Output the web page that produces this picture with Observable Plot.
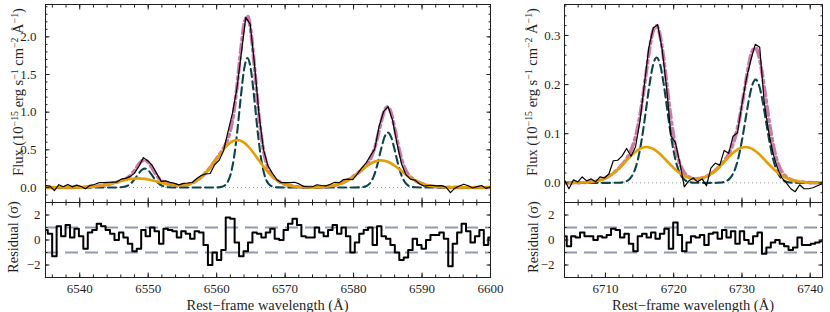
<!DOCTYPE html>
<html><head><meta charset="utf-8">
<script src="https://cdn.jsdelivr.net/npm/d3@7"></script>
<script src="https://cdn.jsdelivr.net/npm/@observablehq/plot@0.6"></script>
<style>
body{margin:0;background:#fff;}
#wrap{position:relative;width:830px;height:312px;font-family:'Liberation Serif','Times New Roman',serif;color:#1f1f1f;overflow:hidden;}
.lab{position:absolute;white-space:nowrap;font-size:14.5px;line-height:1;}
.rot{transform:translate(-50%,-50%) rotate(-90deg);}
.hor{transform:translate(-50%,-50%);}
.lab sup{font-size:0.68em;vertical-align:0.5em;line-height:0;}
</style></head><body><div id="wrap"></div><script>
// ---------- H-alpha + [NII] window: observed spectrum and residuals ----------
const leftWl = [6535.00,6535.65,6536.30,6536.95,6537.60,6538.25,6538.90,6539.55,6540.20,6540.85,6541.50,6542.15,6542.80,6543.45,6544.10,6544.75,6545.40,6546.05,6546.70,6547.35,6548.00,6548.65,6549.30,6549.95,6550.60,6551.25,6551.90,6552.55,6553.20,6553.85,6554.50,6555.15,6555.80,6556.45,6557.10,6557.75,6558.40,6559.05,6559.70,6560.35,6561.00,6561.65,6562.30,6562.95,6563.60,6564.25,6564.90,6565.55,6566.20,6566.85,6567.50,6568.15,6568.80,6569.45,6570.10,6570.75,6571.40,6572.05,6572.70,6573.35,6574.00,6574.65,6575.30,6575.95,6576.60,6577.25,6577.90,6578.55,6579.20,6579.85,6580.50,6581.15,6581.80,6582.45,6583.10,6583.75,6584.40,6585.05,6585.70,6586.35,6587.00,6587.65,6588.30,6588.95,6589.60,6590.25,6590.90,6591.55,6592.20,6592.85,6593.50,6594.15,6594.80,6595.45,6596.10,6596.75,6597.40,6598.05,6598.70,6599.35,6600.00];
const leftFlux = [0.026,0.017,-0.043,0.036,0.010,0.040,0.008,0.031,0.013,-0.018,0.028,0.039,0.063,0.065,0.068,0.072,0.071,0.110,0.120,0.144,0.190,0.281,0.396,0.352,0.291,0.184,0.081,0.088,0.067,0.054,0.035,0.054,0.059,0.066,0.118,0.159,0.180,0.185,0.302,0.359,0.484,0.737,0.983,1.311,1.779,2.260,2.170,1.616,0.961,0.499,0.286,0.189,0.102,0.063,0.065,0.065,0.069,0.047,0.014,0.009,0.009,0.036,0.026,0.020,0.043,0.069,0.063,0.104,0.111,0.102,0.175,0.252,0.322,0.420,0.512,0.820,1.011,1.074,0.891,0.582,0.312,0.168,0.111,0.098,0.049,0.018,0.026,0.028,0.022,0.025,0.005,-0.068,-0.009,0.020,0.043,0.023,-0.007,0.010,0.026,-0.013,0.007];
const leftResid = [0.8,0.5,-1.3,1.1,0.3,1.2,0.2,0.9,0.3,-0.7,0.6,0.8,1.3,1.1,0.8,0.5,0.0,0.6,0.2,-0.3,-0.9,-0.7,0.8,0.3,1.0,0.7,-0.3,0.9,0.8,0.7,0.2,0.7,0.5,0.1,0.7,0.6,-0.4,-2.0,-1.0,-1.6,-0.8,1.8,1.7,-0.2,-1.3,-0.9,-0.2,0.6,0.5,0.2,0.6,0.9,0.1,0.0,0.8,1.3,1.7,1.2,0.3,0.2,0.2,1.0,0.6,0.3,0.8,1.2,0.5,1.0,0.3,-1.0,-0.2,0.5,0.8,1.0,-0.4,1.1,0.3,0.1,-0.4,-1.0,-1.6,-1.4,-0.8,0.1,-0.4,-0.7,0.0,0.4,0.4,0.6,0.1,-2.1,-0.3,0.6,1.3,0.7,-0.2,0.3,0.8,-0.4,0.2];

// ---------- H-alpha + [NII] window: fitted model (total, narrow, broad) ----------
const leftModelWl = [6535,6536,6537,6538,6539,6540,6541,6542,6543,6544,6545,6546,6546.5,6547,6547.5,6548,6548.5,6549,6549.5,6550,6550.5,6551,6551.5,6552,6552.5,6553,6554,6555,6556,6557,6558,6559,6560,6560.5,6561,6561.5,6562,6562.5,6563,6563.5,6564,6564.5,6565,6565.5,6566,6566.5,6567,6567.5,6568,6568.5,6569,6570,6571,6572,6573,6574,6575,6576,6577,6578,6579,6580,6581,6581.5,6582,6582.5,6583,6583.5,6584,6584.5,6585,6585.5,6586,6586.5,6587,6587.5,6588,6588.5,6589,6590,6591,6592,6593,6594,6595,6596,6597,6598,6599,6600];
const leftTotal = [0,0,0.0001,0.0003,0.0008,0.0022,0.0053,0.0115,0.0224,0.039,0.0608,0.0872,0.1044,0.1294,0.1685,0.2251,0.2913,0.3458,0.3635,0.3334,0.2675,0.1918,0.1282,0.0851,0.059,0.0439,0.0294,0.0295,0.0467,0.0874,0.158,0.259,0.3828,0.449,0.5208,0.6133,0.7577,0.999,1.364,1.799,2.161,2.276,2.069,1.623,1.116,0.697,0.4207,0.2623,0.1738,0.121,0.0858,0.041,0.018,0.0071,0.0029,0.0022,0.0042,0.0103,0.0237,0.0487,0.0898,0.148,0.22,0.2615,0.3126,0.3863,0.5012,0.6667,0.86,1.0193,1.0706,0.982,0.7883,0.5661,0.3789,0.2509,0.1723,0.124,0.0915,0.0487,0.0237,0.0103,0.004,0.0014,0.0004,0,0,0,0,0];
const leftNarrow = [0,0,0,0,0,0,0,0,0,0,0,0.0024,0.0083,0.0235,0.055,0.1068,0.1713,0.2275,0.25,0.2275,0.1713,0.1068,0.055,0.0235,0.0083,0.0024,0,0,0,0,0,0,0.0008,0.004,0.0168,0.0573,0.1617,0.378,0.734,1.178,1.565,1.72,1.565,1.178,0.734,0.378,0.1617,0.0573,0.0168,0.004,0.0008,0,0,0,0,0,0,0,0,0,0,0,0.0017,0.0071,0.0243,0.0686,0.1606,0.3117,0.5,0.6643,0.73,0.6643,0.5,0.3117,0.1606,0.0686,0.0243,0.0071,0.0017,0,0,0,0,0,0,0,0,0,0,0];
const leftBroad = [0,0,0.0001,0.0003,0.0008,0.0022,0.0053,0.0115,0.0224,0.039,0.0608,0.0848,0.0961,0.1059,0.1135,0.1183,0.12,0.1183,0.1135,0.1059,0.0962,0.085,0.0732,0.0616,0.0507,0.0415,0.0294,0.0295,0.0467,0.0874,0.158,0.259,0.382,0.445,0.504,0.556,0.596,0.621,0.63,0.621,0.596,0.556,0.504,0.445,0.382,0.319,0.259,0.205,0.157,0.117,0.085,0.041,0.018,0.0071,0.0029,0.0022,0.0042,0.0103,0.0237,0.0487,0.0898,0.148,0.2183,0.2544,0.2883,0.3177,0.3406,0.355,0.36,0.355,0.3406,0.3177,0.2883,0.2544,0.2183,0.1823,0.148,0.1169,0.0898,0.0487,0.0237,0.0103,0.004,0.0014,0.0004,0,0,0,0,0];

// ---------- [SII] window: observed spectrum and residuals ----------
const rightWl = [6704.00,6704.65,6705.30,6705.95,6706.60,6707.25,6707.90,6708.55,6709.20,6709.85,6710.50,6711.15,6711.80,6712.45,6713.10,6713.75,6714.40,6715.05,6715.70,6716.35,6717.00,6717.65,6718.30,6718.95,6719.60,6720.25,6720.90,6721.55,6722.20,6722.85,6723.50,6724.15,6724.80,6725.45,6726.10,6726.75,6727.40,6728.05,6728.70,6729.35,6730.00,6730.65,6731.30,6731.95,6732.60,6733.25,6733.90,6734.55,6735.20,6735.85,6736.50,6737.15,6737.80,6738.45,6739.10,6739.75,6740.40,6741.05,6741.70];
const rightFlux = [0.006,-0.012,0.006,0.002,0.012,0.004,0.008,0.002,0.012,0.010,0.018,0.045,0.046,0.055,0.070,0.054,0.073,0.125,0.200,0.275,0.315,0.322,0.272,0.195,0.095,0.082,0.040,-0.008,0.004,0.010,0.002,0.008,-0.006,0.030,0.040,0.036,0.066,0.060,0.095,0.102,0.160,0.212,0.250,0.282,0.276,0.165,0.105,0.060,0.030,0.010,0.000,-0.012,-0.018,-0.004,-0.012,-0.012,-0.010,-0.006,-0.002];
const rightResid = [0.3,-0.5,0.3,0.2,0.6,0.3,0.3,0.0,0.3,0.2,0.4,0.9,0.8,0.2,0.5,-0.3,-0.9,0.3,0.5,0.2,0.6,0.1,0.5,0.9,-0.7,1.4,0.4,-0.9,-0.2,0.3,0.2,0.4,-0.4,0.5,0.6,0.1,0.8,0.2,0.7,-0.3,0.7,0.0,-0.3,0.3,0.6,-1.1,-0.6,-0.2,0.0,-0.3,-0.5,-0.8,-0.6,0.2,-0.4,-0.4,-0.3,-0.2,-0.1];

// ---------- [SII] window: fitted model ----------
const rightModelWl = [6704,6705,6706,6707,6708,6709,6710,6711,6711.5,6712,6712.5,6713,6713.5,6714,6714.5,6715,6715.5,6716,6716.5,6717,6717.5,6718,6718.5,6719,6719.5,6720,6720.5,6721,6721.5,6722,6722.5,6723,6723.5,6724,6724.5,6725,6725.5,6726,6726.5,6727,6727.5,6728,6728.5,6729,6729.5,6730,6730.5,6731,6731.5,6732,6732.5,6733,6733.5,6734,6734.5,6735,6735.5,6736,6736.5,6737,6737.5,6738,6739,6740,6741,6742];
const rightTotal = [0,0.0001,0.0003,0.0008,0.0021,0.0048,0.0099,0.0182,0.0238,0.0303,0.038,0.0471,0.0589,0.0753,0.0989,0.1327,0.1768,0.2277,0.2762,0.3103,0.3194,0.2997,0.2558,0.199,0.1419,0.0938,0.0585,0.0355,0.0217,0.014,0.0101,0.0083,0.0081,0.0091,0.0112,0.0144,0.0187,0.024,0.0305,0.0379,0.0466,0.0576,0.0723,0.0928,0.1215,0.1583,0.2004,0.2401,0.2677,0.2744,0.2571,0.2197,0.1717,0.1233,0.0824,0.0521,0.032,0.0196,0.0122,0.0078,0.0051,0.0033,0.0013,0.0005,0.0002,0];
const rightNarrow = [0,0,0,0,0,0,0,0,0.0001,0.0003,0.001,0.0028,0.0073,0.0168,0.0345,0.0636,0.1048,0.1547,0.2042,0.2412,0.255,0.2412,0.2042,0.1547,0.1048,0.0636,0.0345,0.0168,0.0073,0.0028,0.001,0.0003,0.0001,0,0,0,0,0,0.0003,0.0008,0.0023,0.006,0.0138,0.0284,0.0524,0.0863,0.1274,0.1681,0.1986,0.21,0.1986,0.1681,0.1274,0.0863,0.0524,0.0284,0.0138,0.006,0.0023,0.0008,0.0003,0.0001,0,0,0,0];
const rightBroad = [0,0.0001,0.0003,0.0008,0.0021,0.0048,0.0099,0.0182,0.0237,0.030,0.037,0.0443,0.0516,0.0585,0.0644,0.0691,0.072,0.073,0.072,0.0691,0.0644,0.0585,0.0516,0.0443,0.0371,0.0302,0.024,0.0187,0.0144,0.0112,0.0091,0.008,0.008,0.0091,0.0112,0.0144,0.0187,0.024,0.0302,0.0371,0.0443,0.0516,0.0585,0.0644,0.0691,0.072,0.073,0.072,0.0691,0.0644,0.0585,0.0516,0.0443,0.037,0.030,0.0237,0.0182,0.0136,0.0099,0.007,0.0048,0.0032,0.0013,0.0005,0.0002,0];

// ---------- ticks and reference levels ----------
const leftXMajor = [6540,6550,6560,6570,6580,6590,6600];
const leftXMinor = [6536,6538,6540,6542,6544,6546,6548,6550,6552,6554,6556,6558,6560,6562,6564,6566,6568,6570,6572,6574,6576,6578,6580,6582,6584,6586,6588,6590,6592,6594,6596,6598,6600];
const rightXMajor = [6710,6720,6730,6740];
const rightXMinor = [6704,6706,6708,6710,6712,6714,6716,6718,6720,6722,6724,6726,6728,6730,6732,6734,6736,6738,6740];
const fluxLeftMajor = [0,0.5,1,1.5,2];
const fluxLeftMinor = [-0.1,0,0.1,0.2,0.3,0.4,0.5,0.6,0.7,0.8,0.9,1,1.1,1.2,1.3,1.4,1.5,1.6,1.7,1.8,1.9,2,2.1,2.2,2.3,2.4];
const fluxRightMajor = [0,0.1,0.2,0.3];
const fluxRightMinor = [-0.02,0,0.02,0.04,0.06,0.08,0.1,0.12,0.14,0.16,0.18,0.2,0.22,0.24,0.26,0.28,0.3,0.32,0.34,0.36];
const residMajor = [-2,0,2];
const residMinor = [-3,-2,-1,0,1,2,3];
const zeroLevel = [0];
const sigmaLevels = [-1,1];

// ---------- styling ----------
const INK = "#1f1f1f";
const FONT = "'Liberation Serif','Times New Roman',serif";
const TL = 4.5, TS = 2.5;
const C_TOTAL = "#cc79a7", C_NARROW = "#0b4648", C_BROAD = "#e69f00", C_SIG = "#8e9bac";
const blank = () => "";
const fmtSigned = d => d < 0 ? "\u2212" + Math.abs(d) : String(d);
const fmt1 = d3.format(".1f");

function frameTicks(xMajor, xMinor, yMajor, yMinor) {
  const c = {tickFormat: blank, label: null, stroke: INK};
  return [
    Plot.axisX({...c, ticks: xMajor, anchor: "bottom", tickSize: TL, dy: -TL}),
    Plot.axisX({...c, ticks: xMinor, anchor: "bottom", tickSize: TS, dy: -TS}),
    Plot.axisX({...c, ticks: xMajor, anchor: "top", tickSize: TL, dy: TL}),
    Plot.axisX({...c, ticks: xMinor, anchor: "top", tickSize: TS, dy: TS}),
    Plot.axisY({...c, ticks: yMajor, anchor: "left", tickSize: TL, dx: TL}),
    Plot.axisY({...c, ticks: yMinor, anchor: "left", tickSize: TS, dx: TS}),
    Plot.axisY({...c, ticks: yMajor, anchor: "right", tickSize: TL, dx: -TL}),
    Plot.axisY({...c, ticks: yMinor, anchor: "right", tickSize: TS, dx: -TS})
  ];
}
const baseStyle = {fontFamily: FONT, fontSize: "13px", color: INK, background: "transparent", overflow: "visible"};

function fluxPanel(o) {
  return Plot.plot({
    width: o.width, height: 206,
    marginLeft: o.ml, marginRight: o.mr, marginTop: 4, marginBottom: 4,
    x: {domain: o.xDomain}, y: {domain: o.yDomain},
    style: baseStyle,
    marks: [
      Plot.ruleY(zeroLevel, {stroke: "#9c9c9c", strokeWidth: 1, strokeDasharray: "1,3"}),
      Plot.line(o.total, {x: o.mwl, y: o.total, stroke: C_TOTAL, strokeWidth: 3.6, strokeDasharray: "9,4,2.5,4", curve: "monotone-x", clip: true}),
      Plot.line(o.narrow, {x: o.mwl, y: o.narrow, stroke: C_NARROW, strokeWidth: 2.1, strokeDasharray: "8,4.5", curve: "monotone-x", clip: true}),
      Plot.line(o.broad, {x: o.mwl, y: o.broad, stroke: C_BROAD, strokeWidth: 2.7, curve: "monotone-x", clip: true}),
      Plot.line(o.flux, {x: o.wl, y: o.flux, stroke: "#000", strokeWidth: 1.2, clip: true}),
      ...frameTicks(o.xMajor, o.xMinor, o.yMajor, o.yMinor),
      Plot.axisY({ticks: o.yMajor, anchor: "left", tickSize: 0, tickPadding: o.pad, tickFormat: fmt1, label: null, fontSize: 13}),
      Plot.frame({stroke: INK, strokeWidth: 1})
    ]
  });
}
function residPanel(o) {
  return Plot.plot({
    width: o.width, height: 110,
    marginLeft: o.ml, marginRight: o.mr, marginTop: 2, marginBottom: 33,
    x: {domain: o.xDomain}, y: {domain: [-3, 3]},
    style: baseStyle,
    marks: [
      Plot.ruleY(sigmaLevels, {stroke: C_SIG, strokeWidth: 1.8, strokeDasharray: "13,7"}),
      Plot.line(o.resid, {x: o.wl, y: o.resid, curve: "step", stroke: "#000", strokeWidth: 2, clip: true}),
      ...frameTicks(o.xMajor, o.xMinor, residMajor, residMinor),
      Plot.axisX({ticks: o.xMajor, anchor: "bottom", tickSize: 0, tickPadding: 6.5, tickFormat: d => String(d), label: null, fontSize: 13}),
      Plot.axisY({ticks: residMajor, anchor: "left", tickSize: 0, tickPadding: o.pad, tickFormat: fmtSigned, label: null, fontSize: 13}),
      Plot.frame({stroke: INK, strokeWidth: 1})
    ]
  });
}

const wrap = document.getElementById("wrap");
function place(el, left, top) {
  el.style.position = "absolute"; el.style.left = left + "px"; el.style.top = top + "px";
  wrap.appendChild(el);
}
place(fluxPanel({width: 500, ml: 45, mr: 10, xDomain: [6535, 6600], yDomain: [-0.2, 2.43],
  mwl: leftModelWl, total: leftTotal, narrow: leftNarrow, broad: leftBroad, wl: leftWl, flux: leftFlux,
  xMajor: leftXMajor, xMinor: leftXMinor, yMajor: fluxLeftMajor, yMinor: fluxLeftMinor, pad: 9}), 0, 0);
place(residPanel({width: 500, ml: 45, mr: 10, xDomain: [6535, 6600], wl: leftWl, resid: leftResid,
  xMajor: leftXMajor, xMinor: leftXMinor, pad: 5}), 0, 200);
place(fluxPanel({width: 330, ml: 64, mr: 8, xDomain: [6704, 6741.8], yDomain: [-0.04, 0.363],
  mwl: rightModelWl, total: rightTotal, narrow: rightNarrow, broad: rightBroad, wl: rightWl, flux: rightFlux,
  xMajor: rightXMajor, xMinor: rightXMinor, yMajor: fluxRightMajor, yMinor: fluxRightMinor, pad: 4}), 500, 0);
place(residPanel({width: 330, ml: 64, mr: 8, xDomain: [6704, 6741.8], wl: rightWl, resid: rightResid,
  xMajor: rightXMajor, xMinor: rightXMinor, pad: 10}), 500, 200);

// axis titles
const fluxTitle = "Flux (10<sup>\u221215</sup> erg s<sup>\u22121</sup> cm<sup>\u22122</sup> \u00c5<sup>\u22121</sup>)";
function label(html, x, y, cls) {
  const d = document.createElement("div");
  d.className = "lab " + cls; d.innerHTML = html;
  d.style.left = x + "px"; d.style.top = y + "px";
  wrap.appendChild(d);
}
label(fluxTitle, 18, 92, "rot");
label(fluxTitle, 532, 92, "rot");
label("Residual (\u03c3)", 12.5, 237, "rot");
label("Residual (\u03c3)", 533, 237, "rot");
label("Rest\u2212frame wavelength (\u00c5)", 267.5, 304.5, "hor");
label("Rest\u2212frame wavelength (\u00c5)", 693, 304.5, "hor");
</script></body></html>
